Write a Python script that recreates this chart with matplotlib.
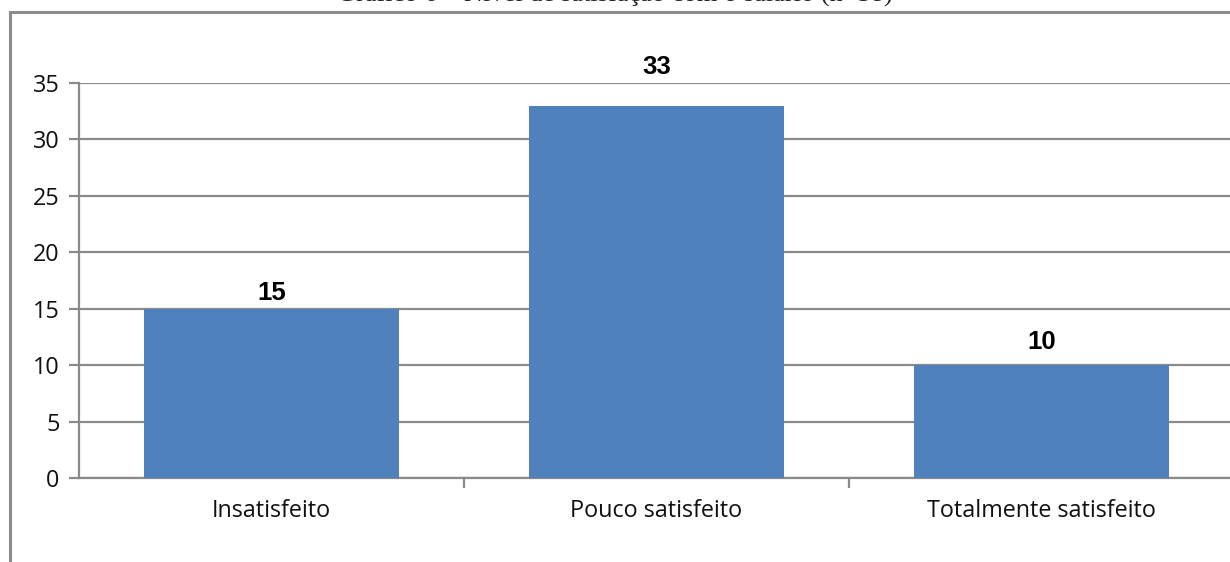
import matplotlib
matplotlib.use("Agg")
import matplotlib.pyplot as plt
from matplotlib.patches import Rectangle

categories = ["Insatisfeito", "Pouco satisfeito", "Totalmente satisfeito"]
values = [15, 33, 10]
yticks = [0, 5, 10, 15, 20, 25, 30, 35]
title = "Gráfico 6 – Nível de satisfação com o salário (n=58)"

W, H = 1230, 562
fig = plt.figure(figsize=(W / 100, H / 100), dpi=100)
fig.patch.set_facecolor("white")

# outer chart frame (cropped at right and bottom)
fig.add_artist(Rectangle((10 / W, -0.1), 1.2, (H - 12) / H + 0.1,
                         transform=fig.transFigure, fill=False,
                         edgecolor="#8c8c8c", linewidth=2.2))

# title (mostly cut off at top, as in the reference)
fig.text(0.5, 1 - 2 / H, title, ha="center", va="baseline",
         family="Liberation Serif", fontsize=19, color="#222222")

ax = fig.add_axes([79 / W, (H - 478) / H, (1234 - 79) / W, (478 - 83) / H])
ax.set_facecolor("none")

x = list(range(len(categories)))
ax.bar(x, values, width=0.66, color="#4F81BD", zorder=3)
label_offsets_pt = [6, 23, 11.5]
for xi, v, off in zip(x, values, label_offsets_pt):
    ax.annotate(str(v), (xi, v), xytext=(0, off), textcoords="offset points",
                ha="center", va="baseline", family="Liberation Sans",
                fontweight="bold", fontsize=18.5, color="black",
                annotation_clip=False)

ax.set_xlim(-0.5, 2.5)
ax.set_ylim(0, 35)
ax.set_yticks(yticks)
ax.yaxis.grid(True, color="#8a8a8a", linewidth=1.6, zorder=0)
ax.set_axisbelow(True)

ax.set_xticks(x)
ax.set_xticklabels(categories, family="Open Sans", fontsize=16.8, color="#111111")
ax.set_xticks([0.5, 1.5], minor=True)
ax.tick_params(axis="x", which="major", length=0, pad=15)
ax.tick_params(axis="x", which="minor", length=7, width=1.6, color="#8a8a8a", direction="out")
ax.tick_params(axis="y", length=7, width=1.6, color="#8a8a8a", direction="out", pad=7)
for lbl in ax.get_yticklabels():
    lbl.set_family("Open Sans")
    lbl.set_fontsize(16.8)
    lbl.set_color("#111111")

for s in ["top", "right"]:
    ax.spines[s].set_visible(False)
for s in ["left", "bottom"]:
    ax.spines[s].set_color("#8a8a8a")
    ax.spines[s].set_linewidth(1.6)

fig.savefig("out.png", dpi=100)
